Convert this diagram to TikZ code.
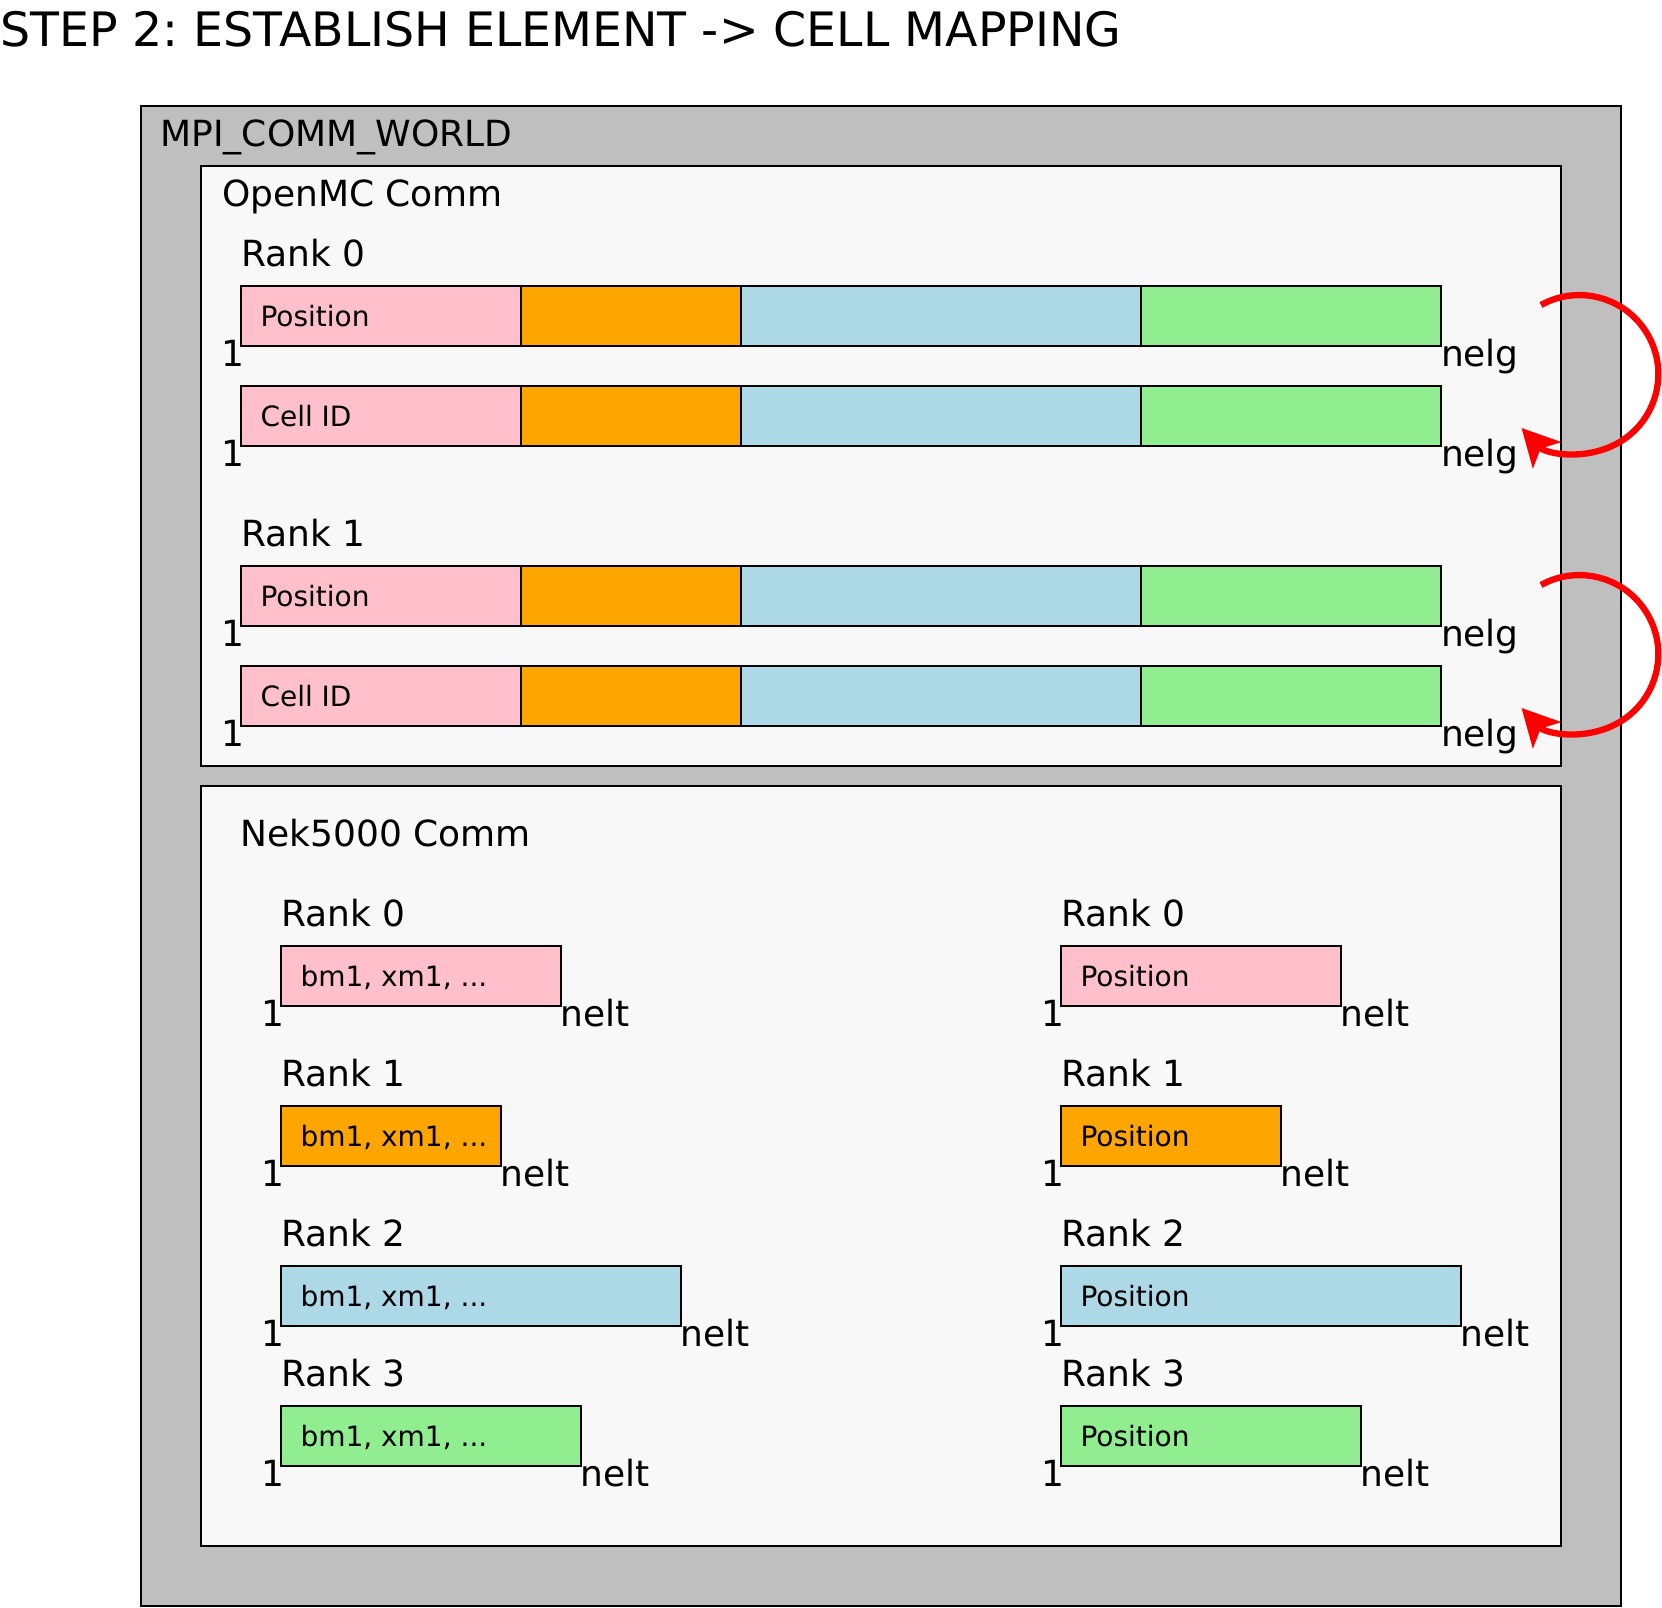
\documentclass[tikz,border=0pt]{standalone}
\usepackage{fontspec}
\setmainfont{DejaVu Sans}
\usepackage{tikz}
\usetikzlibrary{positioning}
\usetikzlibrary{arrows.meta}
\frenchspacing
\definecolor{worldgray}{RGB}{191,191,191}
\definecolor{commbg}{RGB}{248,248,248}
\definecolor{elpink}{RGB}{255,192,203}
\definecolor{elorange}{RGB}{255,165,0}
\definecolor{elblue}{RGB}{173,216,230}
\definecolor{elgreen}{RGB}{144,238,144}
\tikzstyle{mapping}=[x=1pt, y=1pt, line width=2pt]
\tikzstyle{world}=[draw, fill=worldgray]
\tikzstyle{comm}=[draw, fill=commbg]
\tikzstyle{seg}=[rectangle, draw, inner sep=0pt, outer sep=0pt, minimum height=60pt, anchor=north west]
\tikzstyle{s0}=[seg, fill=elpink, minimum width=280pt]
\tikzstyle{s1}=[seg, fill=elorange, minimum width=220pt]
\tikzstyle{s2}=[seg, fill=elblue, minimum width=400pt]
\tikzstyle{s3}=[seg, fill=elgreen, minimum width=300pt]
\tikzstyle{title}=[inner sep=0pt, anchor=base west, font=\fontsize{47.4}{54}\selectfont]
\tikzstyle{lbl}=[inner sep=0pt, anchor=base west, font=\fontsize{36}{42}\selectfont]
\tikzstyle{idx}=[lbl, anchor=base east]
\tikzstyle{field}=[inner sep=0pt, outer sep=0pt, text height=20.4pt, text depth=0pt, font=\fontsize{28}{32}\selectfont]
\tikzstyle{swap}=[red, line width=6.3pt, -{Stealth[length=37pt, width=38pt, inset=9pt]}]
\newcommand{\fieldX}{19.5pt}
\newcommand{\swapR}{79}
\begin{document}
\begin{tikzpicture}[mapping]
	\useasboundingbox (0,0) rectangle (1662,-1608);
	\node[title] (title) at (-1,-46.7) {STEP 2: ESTABLISH ELEMENT -> CELL MAPPING};

	\draw[world] (141,-106) rectangle (1621,-1606);
	\node[lbl] (world) at (159.5,-146.7) {MPI\_COMM\_WORLD};

	%OpenMC communicator
	\draw[comm] (201,-166) rectangle (1561,-766);
	\node[lbl] (omc) at (221,-206.7) {OpenMC Comm};

	\node[lbl] (omcr0) at (240,-266) {Rank 0};
	\node[s0] (pos0a) at (241,-286) {};
	\node[s1, right=0pt of pos0a] (pos0b) {};
	\node[s2, right=0pt of pos0b] (pos0c) {};
	\node[s3, right=0pt of pos0c] (pos0d) {};
	\node[field, right=\fieldX of pos0a.west] (pos0t) {Position};
	\node[idx] (pos0i) at (245.5,-366.7) {1};
	\node[lbl] (pos0n) at (1440,-366.7) {nelg};

	\node[s0] (cid0a) at (241,-386) {};
	\node[s1, right=0pt of cid0a] (cid0b) {};
	\node[s2, right=0pt of cid0b] (cid0c) {};
	\node[s3, right=0pt of cid0c] (cid0d) {};
	\node[field, right=\fieldX of cid0a.west] (cid0t) {Cell ID};
	\node[idx] (cid0i) at (245.5,-466.7) {1};
	\node[lbl] (cid0n) at (1440,-466.7) {nelg};

	\node[lbl] (omcr1) at (240,-546.7) {Rank 1};
	\node[s0] (pos1a) at (241,-566) {};
	\node[s1, right=0pt of pos1a] (pos1b) {};
	\node[s2, right=0pt of pos1b] (pos1c) {};
	\node[s3, right=0pt of pos1c] (pos1d) {};
	\node[field, right=\fieldX of pos1a.west] (pos1t) {Position};
	\node[idx] (pos1i) at (245.5,-646.7) {1};
	\node[lbl] (pos1n) at (1440,-646.7) {nelg};

	\node[s0] (cid1a) at (241,-666) {};
	\node[s1, right=0pt of cid1a] (cid1b) {};
	\node[s2, right=0pt of cid1b] (cid1c) {};
	\node[s3, right=0pt of cid1c] (cid1d) {};
	\node[field, right=\fieldX of cid1a.west] (cid1t) {Cell ID};
	\node[idx] (cid1i) at (245.5,-746.7) {1};
	\node[lbl] (cid1n) at (1440,-746.7) {nelg};

	%Position -> Cell ID on each rank
	\coordinate (sw0) at (1541,-305);
	\coordinate (sw1) at (1541,-585);
	\draw[swap] (sw0) arc[start angle=119, end angle=-137, radius=\swapR];
	\draw[swap] (sw1) arc[start angle=119, end angle=-137, radius=\swapR];

	%Nek5000 communicator
	\draw[comm] (201,-786) rectangle (1561,-1546);
	\node[lbl] (nek) at (239.5,-846.7) {Nek5000 Comm};

	\node[lbl] (nekl0r) at (280,-926) {Rank 0};
	\node[s0] (nekl0) at (281,-946) {};
	\node[field, right=\fieldX of nekl0.west] (nekl0t) {bm1, xm1, ...};
	\node[idx] (nekl0i) at (285.5,-1026.5) {1};
	\node[lbl] (nekl0n) at (559.5,-1026.5) {nelt};

	\node[lbl] (nekl1r) at (280,-1086) {Rank 1};
	\node[s1] (nekl1) at (281,-1106) {};
	\node[field, right=\fieldX of nekl1.west] (nekl1t) {bm1, xm1, ...};
	\node[idx] (nekl1i) at (285.5,-1186.5) {1};
	\node[lbl] (nekl1n) at (499.5,-1186.5) {nelt};

	\node[lbl] (nekl2r) at (280,-1246) {Rank 2};
	\node[s2] (nekl2) at (281,-1266) {};
	\node[field, right=\fieldX of nekl2.west] (nekl2t) {bm1, xm1, ...};
	\node[idx] (nekl2i) at (285.5,-1346.5) {1};
	\node[lbl] (nekl2n) at (679.5,-1346.5) {nelt};

	\node[lbl] (nekl3r) at (280,-1386) {Rank 3};
	\node[s3] (nekl3) at (281,-1406) {};
	\node[field, right=\fieldX of nekl3.west] (nekl3t) {bm1, xm1, ...};
	\node[idx] (nekl3i) at (285.5,-1486.5) {1};
	\node[lbl] (nekl3n) at (579.5,-1486.5) {nelt};

	\node[lbl] (nekr0r) at (1060,-926) {Rank 0};
	\node[s0] (nekr0) at (1061,-946) {};
	\node[field, right=\fieldX of nekr0.west] (nekr0t) {Position};
	\node[idx] (nekr0i) at (1065.5,-1026.5) {1};
	\node[lbl] (nekr0n) at (1339.5,-1026.5) {nelt};

	\node[lbl] (nekr1r) at (1060,-1086) {Rank 1};
	\node[s1] (nekr1) at (1061,-1106) {};
	\node[field, right=\fieldX of nekr1.west] (nekr1t) {Position};
	\node[idx] (nekr1i) at (1065.5,-1186.5) {1};
	\node[lbl] (nekr1n) at (1279.5,-1186.5) {nelt};

	\node[lbl] (nekr2r) at (1060,-1246) {Rank 2};
	\node[s2] (nekr2) at (1061,-1266) {};
	\node[field, right=\fieldX of nekr2.west] (nekr2t) {Position};
	\node[idx] (nekr2i) at (1065.5,-1346.5) {1};
	\node[lbl] (nekr2n) at (1459.5,-1346.5) {nelt};

	\node[lbl] (nekr3r) at (1060,-1386) {Rank 3};
	\node[s3] (nekr3) at (1061,-1406) {};
	\node[field, right=\fieldX of nekr3.west] (nekr3t) {Position};
	\node[idx] (nekr3i) at (1065.5,-1486.5) {1};
	\node[lbl] (nekr3n) at (1359.5,-1486.5) {nelt};
\end{tikzpicture}
\end{document}
